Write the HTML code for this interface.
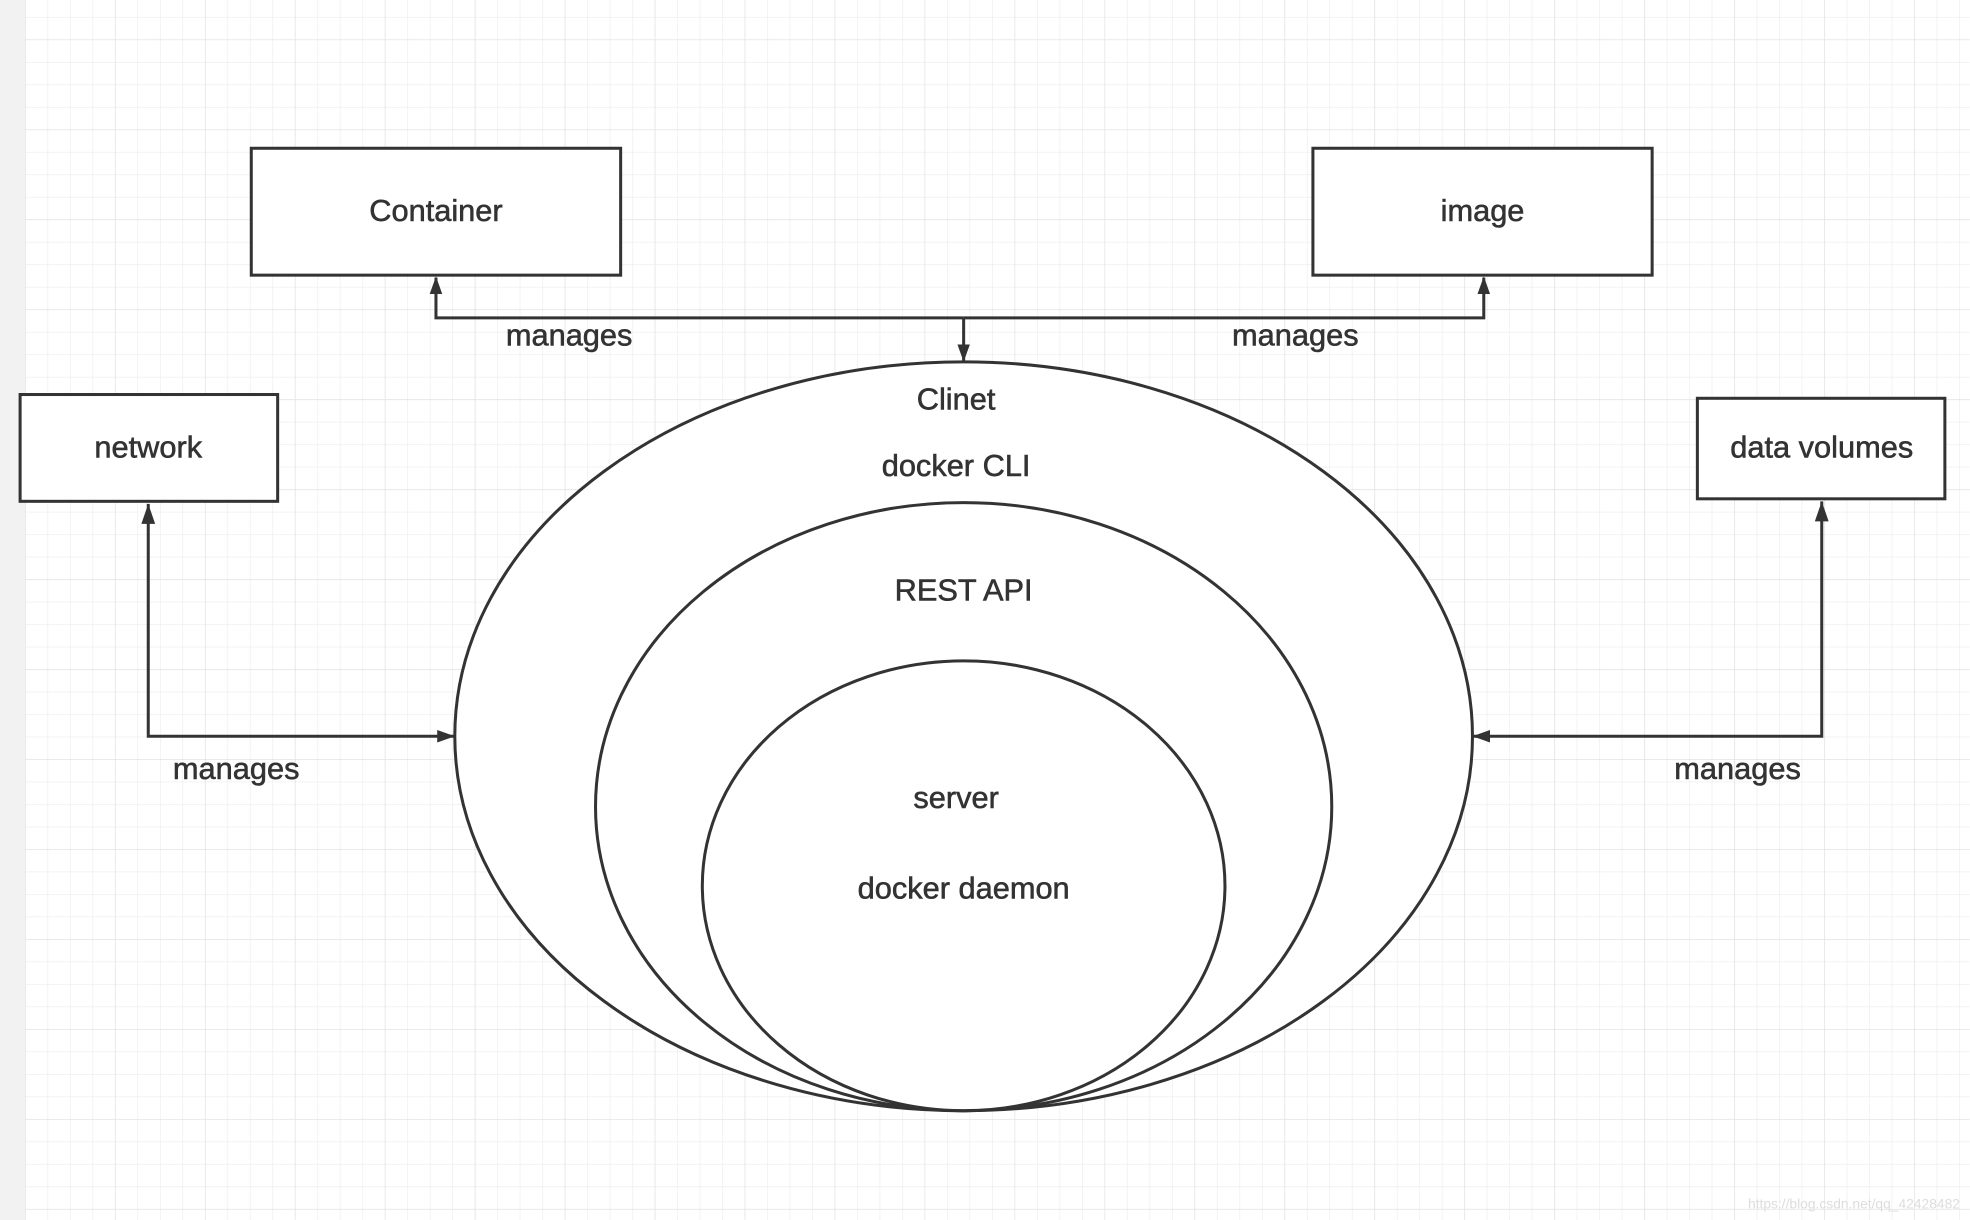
<!DOCTYPE html>
<html><head><meta charset="utf-8"><style>html,body{margin:0;padding:0;background:#fff}svg{display:block}</style></head>
<body>
<svg width="1970" height="1220" viewBox="0 0 1568 971" preserveAspectRatio="none" xmlns="http://www.w3.org/2000/svg">
<defs>
<pattern id="mi" x="19.9" y="13.5" width="17.9" height="17.9" patternUnits="userSpaceOnUse">
<path d="M0 0H17.9M0 0V17.9" stroke="#ececec" stroke-width="1" fill="none"/>
</pattern>
<pattern id="ma" x="19.9" y="31.4" width="71.6" height="71.6" patternUnits="userSpaceOnUse">
<path d="M0 0H71.6M0 0V71.6" stroke="#e2e2e2" stroke-width="1" fill="none"/>
</pattern>
<marker id="ar" markerWidth="14" markerHeight="12" refX="13" refY="6" orient="auto" markerUnits="userSpaceOnUse">
<path d="M0 1 L14 6 L0 11 Z" fill="#333"/>
</marker>
</defs>
<rect width="1568" height="971" fill="#fff"/>
<rect x="19.9" width="1548" height="971" fill="url(#mi)"/>
<rect x="19.9" width="1548" height="971" fill="url(#ma)"/>
<rect x="0" y="0" width="19.9" height="971" fill="#f2f2f2"/>
<g stroke="#333" stroke-width="2.4" fill="#fff">
<rect x="200" y="118" width="294" height="101"/>
<rect x="1045" y="118" width="270" height="101"/>
<rect x="16" y="314" width="205" height="85"/>
<rect x="1351" y="317" width="197" height="80"/>
<ellipse cx="767" cy="586" rx="405" ry="298"/>
<ellipse cx="767" cy="642" rx="293" ry="242"/>
<ellipse cx="767" cy="705" rx="208" ry="179"/>
</g>
<g stroke="#333" stroke-width="2.4" fill="none">
<path d="M767 253 H347 V221" marker-end="url(#ar)"/>
<path d="M767 253 H1181 V221" marker-end="url(#ar)"/>
<path d="M767 253 V287" marker-end="url(#ar)"/>
<path d="M118 401 V586 H361" marker-end="url(#ar)"/>
<path d="M1450 399 V586 H1173" marker-end="url(#ar)"/>
</g>
<g fill="#333">
<path d="M118 401 L112.5 417 L123.5 417 Z"/>
<path d="M1450 399 L1444.5 415 L1455.5 415 Z"/>
</g>
<g font-family="Liberation Sans, sans-serif" font-size="24.5" fill="#333" stroke="#333" stroke-width="0.45" text-anchor="middle">
<text x="347" y="176">Container</text>
<text x="1180" y="176">image</text>
<text x="118" y="364">network</text>
<text x="1450" y="364">data volumes</text>
<text x="453" y="275">manages</text>
<text x="1031" y="275">manages</text>
<text x="188" y="620">manages</text>
<text x="1383" y="620">manages</text>
<text x="761" y="326">Clinet</text>
<text x="761" y="379">docker CLI</text>
<text x="767" y="478">REST API</text>
<text x="761" y="643">server</text>
<text x="767" y="715">docker daemon</text>
</g>
<text x="1560" y="962" font-family="Liberation Sans, sans-serif" font-size="11" fill="#ddd" text-anchor="end">https://blog.csdn.net/qq_42428482</text>
</svg>
</body></html>
